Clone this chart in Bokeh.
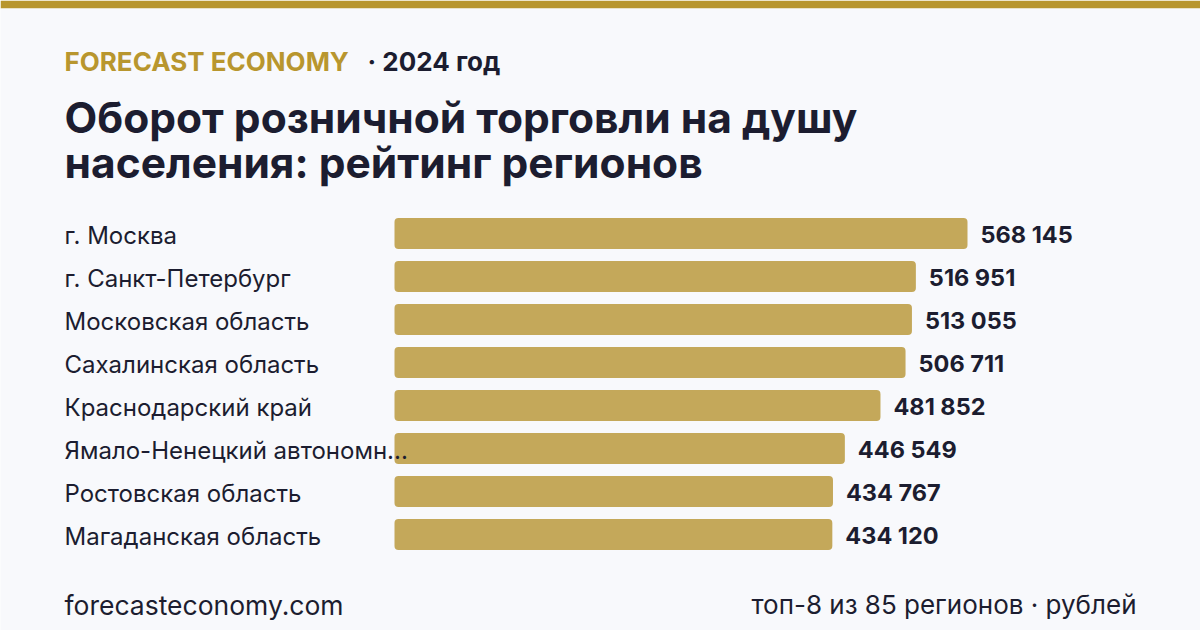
from bokeh.plotting import figure
from bokeh.models import Range1d, Label, ColumnDataSource
from bokeh.core.properties import value
from bokeh.embed import file_html
from bokeh.resources import INLINE

regions = ["г. Москва", "г. Санкт-Петербург", "Московская область", "Сахалинская область",
           "Краснодарский край", "Ямало-Ненецкий автономн...", "Ростовская область", "Магаданская область"]
values = [568145, 516951, 513055, 506711, 481852, 446549, 434767, 434120]

brand = "FORECAST ECONOMY"
year_text = "· 2024 год"
title_1 = "Оборот розничной торговли на душу"
title_2 = "населения: рейтинг регионов"
footer_left = "forecasteconomy.com"
footer_right = "топ-8 из 85 регионов · рублей"

W, H = 1200, 630
TOP = 8
BG = "#f8f9fc"
GOLD = "#b8962e"
BAR = "#c4a85a"
DARK = "#1c1d30"
FONT = "Inter"

x0_px = 394.0
px_per_unit = 573.0 / 568145.0
row0_px = 233.0 - TOP
row_step = 43.0
fh = H - TOP

idx = list(range(len(values)))
labels_fmt = ["{:,}".format(v).replace(",", " ") for v in values]
src = ColumnDataSource(dict(y=idx, v=values, name=regions, lab=labels_fmt, zero=[0] * len(values)))

p = figure(width=W, height=H, output_backend="svg", toolbar_location=None,
           x_range=Range1d(-x0_px / px_per_unit, (W - x0_px) / px_per_unit),
           y_range=Range1d((fh - row0_px) / row_step, -row0_px / row_step),
           min_border_top=TOP, min_border_left=0, min_border_right=0, min_border_bottom=0)
p.axis.visible = False
p.grid.visible = False
p.outline_line_color = None
p.background_fill_color = BG
p.border_fill_color = GOLD

p.hbar(y="y", left="zero", right="v", height=0.72, source=src, fill_color=BAR, line_color=None,
       border_radius=4)
p.text(x="zero", y="y", text="name", source=src, x_offset=-330, y_offset=2, text_baseline="middle",
       text_align="left", text_font=value(FONT), text_font_size="24px", text_color=DARK)
p.text(x="v", y="y", text="lab", source=src, x_offset=13, y_offset=1, text_baseline="middle",
       text_align="left", text_font=value(FONT), text_font_size="23.5px", text_font_style="bold",
       text_color=DARK)

def lab(x, y, t, size, color, bold=False, align="left"):
    p.add_layout(Label(x=x, y=y, x_units="screen", y_units="screen", text=t, text_font=FONT,
                       text_font_size=size, text_color=color, text_align=align,
                       text_baseline="alphabetic", text_font_style="bold" if bold else "normal"))

def y_from_top(py):
    return fh - (py - TOP)

lab(64, y_from_top(61), brand, "26px", GOLD, True)
lab(367, y_from_top(61), year_text, "26px", DARK, True)
lab(64, y_from_top(117), title_1, "42.5px", DARK, True)
lab(64, y_from_top(162), title_2, "42.5px", DARK, True)
lab(64, y_from_top(604), footer_left, "26.5px", DARK)
lab(1136, y_from_top(604), footer_right, "26px", DARK, align="right")

open("out.html", "w").write(file_html(p, INLINE))
